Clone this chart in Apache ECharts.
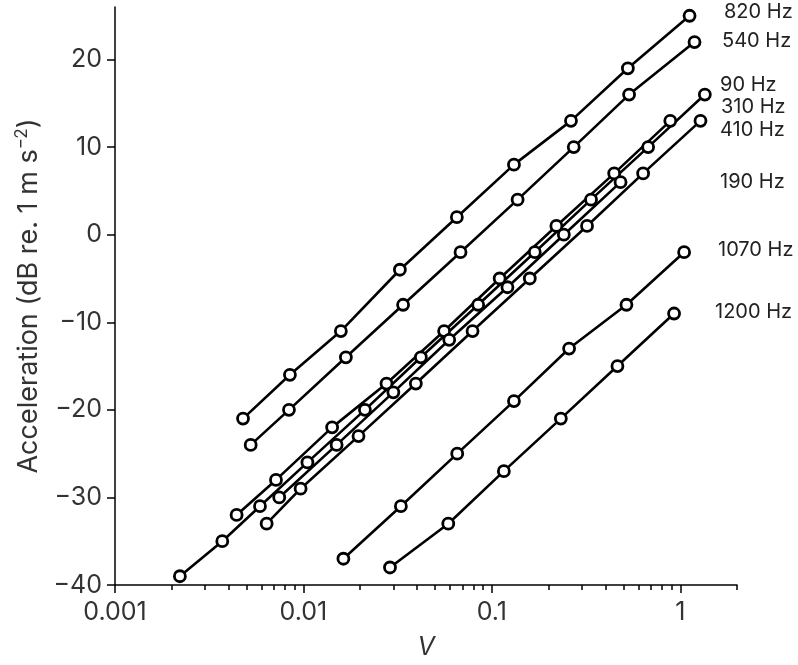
<!DOCTYPE html>
<html>
<head>
<meta charset="utf-8">
<script src="https://cdn.jsdelivr.net/npm/echarts@6/dist/echarts.min.js"></script>
<style>
html,body{margin:0;padding:0;background:#fff;}
#chart{width:798px;height:665px;}
</style>
</head>
<body>
<div id="chart"></div>
<script>
// ---- data (V in volts, acceleration in dB re. 1 m s^-2) ----
const seriesNames = ['820 Hz', '540 Hz', '90 Hz', '310 Hz', '410 Hz', '190 Hz', '1070 Hz', '1200 Hz'];

const v820  = [0.00478, 0.00848, 0.0158, 0.0325, 0.0652, 0.131, 0.263, 0.527, 1.12];
const a820  = [-21, -16, -11, -4, 2, 8, 13, 19, 25];

const v540  = [0.00525, 0.00838, 0.0168, 0.0338, 0.0682, 0.137, 0.272, 0.535, 1.19];
const a540  = [-24, -20, -14, -8, -2, 4, 10, 16, 22];

const v90   = [0.00221, 0.00371, 0.00588, 0.0105, 0.0212, 0.0420, 0.0846, 0.169, 0.336, 0.675, 1.35];
const a90   = [-39, -35, -31, -26, -20, -14, -8, -2, 4, 10, 16];

const v310  = [0.00442, 0.00715, 0.0142, 0.0276, 0.0558, 0.110, 0.220, 0.446, 0.885];
const a310  = [-32, -28, -22, -17, -11, -5, 1, 7, 13];

const v410  = [0.00638, 0.00966, 0.0196, 0.0395, 0.0790, 0.159, 0.320, 0.635, 1.28];
const a410  = [-33, -29, -23, -17, -11, -5, 1, 7, 13];

const v190  = [0.00744, 0.0150, 0.0300, 0.0594, 0.121, 0.241, 0.482];
const a190  = [-30, -24, -18, -12, -6, 0, 6];

const v1070 = [0.0163, 0.0329, 0.0655, 0.131, 0.257, 0.518, 1.048];
const a1070 = [-37, -31, -25, -19, -13, -8, -2];

const v1200 = [0.0288, 0.0587, 0.1158, 0.2323, 0.464, 0.927];
const a1200 = [-38, -33, -27, -21, -15, -9];

const xTickValues = [0.001, 0.01, 0.1, 1];
const xTickLabels = ['0.001', '0.01', '0.1', '1'];
const xMinorValues = [0.002,0.003,0.004,0.005,0.006,0.007,0.008,0.009,
                      0.02,0.03,0.04,0.05,0.06,0.07,0.08,0.09,
                      0.2,0.3,0.4,0.5,0.6,0.7,0.8,0.9, 2];
const xMin = 0.001, xMax = 2;
const yTickValues = [-40, -30, -20, -10, 0, 10, 20];
const yMin = -40, yMax = 26;

// label placement (text only)
const labelPos = [[724, 12], [722, 41], [720, 85], [721, 107], [720, 130], [720, 182], [718, 250], [715, 312]];

// ---- build ----
const allV = [v820, v540, v90, v310, v410, v190, v1070, v1200];
const allA = [a820, a540, a90, a310, a410, a190, a1070, a1200];
const FONT = 'Inter, "Liberation Sans", Arial, sans-serif';
const lg = Math.log10;

const series = allV.map((vs, i) => ({
  name: seriesNames[i],
  type: 'line',
  xAxisIndex: 0,
  yAxisIndex: 0,
  data: vs.map((v, j) => [lg(v), allA[i][j]]),
  symbol: 'circle',
  symbolSize: 11,
  showSymbol: true,
  lineStyle: { color: '#000', width: 2.6 },
  itemStyle: { color: '#fff', borderColor: '#000', borderWidth: 2.8 },
  emphasis: { disabled: true },
  animation: false,
  z: 2
}));

const chart = echarts.init(document.getElementById('chart'), null, { renderer: 'canvas' });
chart.setOption({
  backgroundColor: '#fff',
  animation: false,
  grid: { left: 115, right: 61, top: 7, bottom: 80, containLabel: false },
  xAxis: [{
    type: 'value',
    min: lg(xMin), max: lg(xMax),
    interval: 1,
    name: 'V',
    nameLocation: 'middle',
    nameGap: 50,
    nameTextStyle: { fontFamily: FONT, fontSize: 25, fontStyle: 'italic', color: '#333' },
    axisLine: { show: true, onZero: false, lineStyle: { color: '#000', width: 1.5 } },
    axisTick: { show: true, inside: false, length: 8, customValues: xTickValues.map(lg), lineStyle: { color: '#000', width: 1.5 } },
    axisLabel: {
      show: true, margin: 15, fontFamily: FONT, fontSize: 25, color: '#333',
      customValues: xTickValues.map(lg),
      formatter: function (v) {
        let best = 0, bd = Infinity;
        xTickValues.forEach((t, k) => { const d = Math.abs(lg(t) - v); if (d < bd) { bd = d; best = k; } });
        return xTickLabels[best];
      }
    },
    splitLine: { show: false }
  }, {
    type: 'value',
    min: lg(xMin), max: lg(xMax),
    position: 'bottom',
    axisLine: { show: false, onZero: false },
    axisTick: { show: true, inside: false, length: 5, customValues: xMinorValues.map(lg), lineStyle: { color: '#000', width: 1.5 } },
    axisLabel: { show: false },
    splitLine: { show: false }
  }],
  yAxis: [{
    type: 'value',
    min: yMin, max: yMax,
    interval: 10,
    name: '{a|Acceleration (dB re. 1 m s}{b|\u22122}{a|)}',
    nameLocation: 'middle',
    nameRotate: 90,
    nameGap: 67,
    nameTextStyle: {
      color: '#333',
      rich: {
        a: { fontFamily: FONT, fontSize: 27, color: '#333', lineHeight: 32 },
        b: { fontFamily: FONT, fontSize: 17, color: '#333', verticalAlign: 'top', lineHeight: 18 }
      }
    },
    axisLine: { show: true, onZero: false, lineStyle: { color: '#000', width: 1.5 } },
    axisTick: { show: true, inside: false, length: 8, customValues: yTickValues, lineStyle: { color: '#000', width: 1.5 } },
    axisLabel: {
      show: true, margin: 13, fontFamily: FONT, fontSize: 25, color: '#333',
      customValues: yTickValues,
      formatter: function (v) { return String(v).replace('-', '\u2212'); }
    },
    splitLine: { show: false }
  }],
  graphic: seriesNames.map((n, i) => ({
    type: 'text',
    x: labelPos[i][0],
    y: labelPos[i][1],
    silent: true,
    style: { text: n, font: '20px ' + FONT, fill: '#222', verticalAlign: 'middle', align: 'left' }
  })),
  series: series
});
</script>
</body>
</html>
